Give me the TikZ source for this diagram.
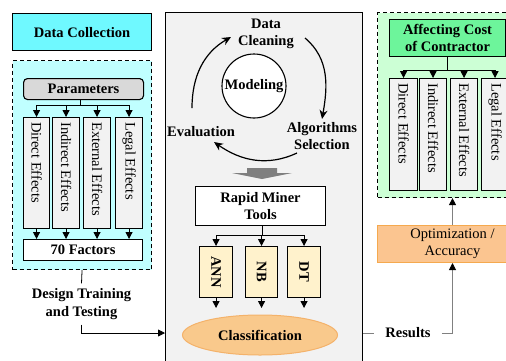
\documentclass[tikz,border=0pt]{standalone}
\usepackage{fontspec}
\setmainfont{Liberation Serif}
\usetikzlibrary{arrows.meta,shapes.geometric}
\definecolor{dccyan}{HTML}{6FF9FF}
\definecolor{lcyan}{HTML}{C0FFFF}
\definecolor{pgray}{HTML}{D9D9D9}
\definecolor{vgray}{HTML}{F2F2F2}
\definecolor{midgray}{HTML}{F2F2F2}
\definecolor{lyellow}{HTML}{FFF2CC}
\definecolor{clsfill}{HTML}{F9C98C}
\definecolor{clsdraw}{HTML}{F4B26A}
\definecolor{optfill}{HTML}{FBC590}
\definecolor{optdraw}{HTML}{F5A94E}
\definecolor{lgreen}{HTML}{CCFFD5}
\definecolor{dgreen}{HTML}{6DF59B}
\definecolor{bigarrow}{HTML}{7F7F7F}
\begin{document}
\begin{tikzpicture}[x=1pt,y=1pt,
  font=\fontsize{14.5}{17.5}\selectfont,
  box/.style={draw=black, line width=1.1pt, inner sep=0pt, anchor=north west, align=center},
  dashbox/.style={draw=black, line width=1.1pt, dash pattern=on 4pt off 3pt, inner sep=0pt, anchor=north west},
  vtext/.style={rotate=-90, anchor=west, inner sep=0pt},
  arr/.style={-{Triangle[length=7pt,width=7pt]}, line width=0.8pt},
  cyc/.style={-{Stealth[length=9pt,width=8pt]}, line width=1.2pt},
  garr/.style={draw=gray, line width=1pt, -{Triangle[length=7pt,width=7pt,color=black]}},
  lbl/.style={font=\fontsize{14.5}{17.5}\selectfont\bfseries, align=center}
]
\useasboundingbox (0,0) rectangle (506,-360);
\clip (0,0) rectangle (506,-360);

% ---------- left column ----------
\node[box, fill=dccyan, minimum width=139pt, minimum height=37pt, font=\fontsize{14.5}{17.5}\selectfont\bfseries] (dc) at (12,-13) {Data Collection};
\node[dashbox, fill=lcyan, minimum width=139pt, minimum height=209pt] (ldash) at (12,-60) {};
\node[box, fill=pgray, rounded corners=4pt, minimum width=120pt, minimum height=21pt, font=\fontsize{14.5}{17.5}\selectfont\bfseries] (param) at (23,-78) {Parameters};
\node[box, fill=vgray, minimum width=26pt, minimum height=111pt] (lv1) at (23,-117) {};
\node[box, fill=vgray, minimum width=27pt, minimum height=111pt] (lv2) at (52,-117) {};
\node[box, fill=vgray, minimum width=27pt, minimum height=111pt] (lv3) at (83,-117) {};
\node[box, fill=vgray, minimum width=27pt, minimum height=111pt] (lv4) at (115,-117) {};
\node[vtext] (lt1) at ([yshift=-5pt]lv1.north) {Direct Effects};
\node[vtext] (lt2) at ([yshift=-5pt]lv2.north) {Indirect Effects};
\node[vtext] (lt3) at ([yshift=-5pt]lv3.north) {External Effects};
\node[vtext] (lt4) at ([yshift=-5pt]lv4.north) {Legal Effects};
\node[box, fill=white, minimum width=119pt, minimum height=21pt, font=\fontsize{14.5}{17.5}\selectfont\bfseries] (fac) at (23,-239) {70 Factors};

\coordinate (pj) at ([xshift=-3pt,yshift=-5pt]param.south);
\draw[line width=0.8pt] ([xshift=-3pt]param.south) -- (pj);
\draw[line width=0.8pt] (pj -| lv1.north) -- (pj -| lv4.north);
\foreach \b in {lv1,lv2,lv3,lv4}{
  \draw[arr] (pj -| \b.north) -- (\b.north);
  \draw[arr] (\b.south) -- (fac.north -| \b.south);
}

\node[lbl, inner ysep=5pt] (dtt) at (81.5,-304) {Design Training\\and Testing};
\draw[line width=0.8pt] (ldash.south) -- (dtt.north);

% ---------- middle column ----------
\node[box, fill=midgray, minimum width=197pt, minimum height=360pt] (mid) at (165,-12) {};
\draw[arr] (dtt.south) |- (mid.west |- 0,-333);

\node[circle, draw=black, line width=1.1pt, fill=white, minimum size=64pt, inner sep=0pt, lbl] (model) at (254,-86) {Modeling};
\node[lbl] (clean) at (266,-34) {Data\\Cleaning};
\node[lbl] (evalu) at (201,-132) {Evaluation};
\node[lbl] (algo) at (322,-136) {Algorithms\\Selection};

\coordinate (a1s) at (192,-108);
\coordinate (a1e) at (231,-37);
\coordinate (a2s) at (305,-38);
\coordinate (a2e) at (322,-119);
\coordinate (a3s) at (297,-153);
\coordinate (a3e) at (214,-142);
\draw[cyc] (a1s) to[out=90,in=210] (a1e);
\draw[cyc] (a2s) to[out=-40,in=80] (a2e);
\draw[cyc] (a3s) to[out=205,in=-35] (a3e);

\fill[bigarrow] (247,-168) -- (277,-168) -- (277,-173) -- (292,-173) -- (262,-179) -- (232,-173) -- (247,-173) -- cycle;

\node[box, fill=white, minimum width=130pt, minimum height=39pt, font=\fontsize{14.5}{17.5}\selectfont\bfseries] (rmt) at (195,-186) {Rapid Miner\\Tools};
\node[box, fill=lyellow, minimum width=33pt, minimum height=51pt] (ann) at (199,-246) {};
\node[box, fill=lyellow, minimum width=32pt, minimum height=51pt] (nb) at (245,-246) {};
\node[box, fill=lyellow, minimum width=33pt, minimum height=51pt] (dt) at (287,-246) {};
\node[lbl, rotate=-90] (annt) at (ann.center) {ANN};
\node[lbl, rotate=-90] (nbt) at (nb.center) {NB};
\node[lbl, rotate=-90] (dtt2) at (dt.center) {DT};

\coordinate (rj) at (262,-235);
\draw[line width=0.8pt] (rj |- rmt.south) -- (rj);
\draw[line width=0.8pt] (rj -| ann.north) -- (rj -| dt.north);
\coordinate (aend) at (0,-308);
\foreach \b in {ann,nb,dt}{
  \draw[arr] (rj -| \b.north) -- (\b.north);
  \draw[arr] (\b.south) -- (aend -| \b.south);
}

\node[ellipse, draw=clsdraw, line width=1pt, fill=clsfill, minimum width=155pt, minimum height=40pt, inner sep=0pt, lbl] (cls) at (260,-335) {Classification};

% ---------- right column ----------
\node[dashbox, fill=lgreen, minimum width=150pt, minimum height=185pt] (rdash) at (377,-12) {};
\node[box, fill=dgreen, minimum width=116pt, minimum height=37pt, font=\fontsize{14.5}{17.5}\selectfont\bfseries] (acc) at (389,-19) {Affecting Cost\\of Contractor};
\node[box, fill=vgray, minimum width=28pt, minimum height=112pt] (rv1) at (389,-78) {};
\node[box, fill=vgray, minimum width=27pt, minimum height=112pt] (rv2) at (419,-78) {};
\node[box, fill=vgray, minimum width=27pt, minimum height=112pt] (rv3) at (450,-78) {};
\node[box, fill=vgray, minimum width=27pt, minimum height=112pt] (rv4) at (481,-78) {};
\node[vtext] (rt1) at ([yshift=-5pt]rv1.north) {Direct Effects};
\node[vtext] (rt2) at ([yshift=-5pt]rv2.north) {Indirect Effects};
\node[vtext] (rt3) at ([yshift=-5pt]rv3.north) {External Effects};
\node[vtext] (rt4) at ([yshift=-5pt]rv4.north) {Legal Effects};

\coordinate (aj) at (447,-70);
\draw[line width=0.8pt] (aj |- acc.south) -- (aj);
\draw[line width=0.8pt] (aj -| rv1.north) -- (aj -| rv4.north);
\foreach \b in {rv1,rv2,rv3,rv4}{
  \draw[arr] (aj -| \b.north) -- (\b.north);
}

\node[box, draw=optdraw, line width=1pt, fill=optfill, minimum width=150pt, minimum height=37pt] (opt) at (377,-225) {Optimization /\\Accuracy};
\draw[garr] (opt.north) -- (opt.north |- rdash.south);

\node[lbl, inner xsep=11pt] (res) at (408,-333) {Results};
\draw[draw=gray, line width=1pt] (mid.east |- res.west) -- (res.west);
\draw[garr] (res.east) -| (opt.south);
\end{tikzpicture}
\end{document}
